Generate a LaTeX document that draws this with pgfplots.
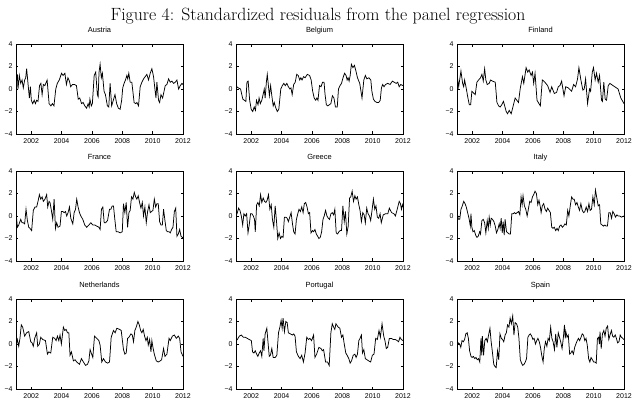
\documentclass[border=0pt]{standalone}
\usepackage{pgfplots}
\pgfplotsset{compat=1.18}
\usepackage{fontspec}
\newfontfamily\helv{Liberation Sans}

\pgfplotsset{
  resid/.style={
    scale only axis, width=167bp, height=90bp,
    xmin=2001, xmax=2012, ymin=-4, ymax=4,
    xtick={2002,2004,2006,2008,2010,2012},
    ytick={-4,-2,0,2,4},
    yticklabels={−4,−2,0,2,4},
    tick align=inside, major tick length=2.5bp,
    axis line style={line width=0.5bp},
    every tick/.style={line width=0.5bp, black},
    every tick label/.append style={font=\helv\fontsize{7}{8}\selectfont},
    xticklabel style={yshift=-1.2bp},
    /pgf/number format/assume math mode=true,
    /pgf/number format/1000 sep={},
    title style={font=\helv\fontsize{7.5}{8}\selectfont, anchor=base,
      at={(0.5,1)}, yshift=6bp, inner sep=0pt},
  },
  resline/.style={black, line width=0.75bp, mark=none},
}

\begin{document}
\begin{tikzpicture}
\path[use as bounding box] (0bp,0bp) rectangle (634bp,-411bp);
\node[anchor=base, font=\fontsize{17.8}{20}\selectfont] at (318bp,-20bp)
  {Figure 4: Standardized residuals from the panel regression};

% ---------- row 1 ----------
\begin{axis}[resid, at={(16bp,-44bp)}, anchor=north west, title={Austria}]
\addplot[resline] coordinates {
(2001.00,0.5) (2001.09,1.3) (2001.13,0.0) (2001.22,1.2) (2001.31,0.5) (2001.40,0.8)
(2001.48,0.1) (2001.57,0.8) (2001.64,1.0) (2001.70,1.8) (2001.79,0.5) (2001.88,-0.8)
(2001.95,0.2) (2002.01,-1.0) (2002.10,-1.3) (2002.20,-1.0) (2002.28,-1.3) (2002.36,-1.0)
(2002.45,-1.1) (2002.55,0.3) (2002.64,0.5) (2002.72,-0.5) (2002.80,0.4) (2002.90,0.3)
(2003.05,0.8) (2003.18,-1.3) (2003.30,-1.5) (2003.40,-1.3) (2003.50,-1.5) (2003.62,0.0)
(2003.72,0.5) (2003.85,0.8) (2004.00,1.4) (2004.10,1.2) (2004.22,1.4) (2004.32,0.4)
(2004.42,1.0) (2004.52,0.7) (2004.60,0.2) (2004.72,0.4) (2004.86,0.4) (2004.98,0.3)
(2005.10,-0.9) (2005.20,-0.8) (2005.32,-1.3) (2005.42,-1.2) (2005.53,-1.5) (2005.65,-1.7)
(2005.75,-1.3) (2005.82,-1.6) (2005.87,-0.9) (2005.96,-1.5) (2006.03,-1.3) (2006.15,1.2)
(2006.25,1.5) (2006.36,-0.5) (2006.41,-0.7) (2006.47,1.5) (2006.54,2.2) (2006.62,1.0)
(2006.69,1.4) (2006.80,-0.2) (2006.89,-0.5) (2007.02,-1.5) (2007.11,-1.6) (2007.20,0.5)
(2007.30,-1.5) (2007.41,-1.0) (2007.52,-0.5) (2007.63,-1.3) (2007.74,-1.7) (2007.86,-1.8)
(2007.96,-1.0) (2008.03,0.1) (2008.12,0.5) (2008.21,0.8) (2008.30,1.2) (2008.36,0.9)
(2008.43,1.4) (2008.52,0.6) (2008.63,0.6) (2008.78,-1.2) (2008.88,-1.3) (2008.96,-1.2)
(2009.07,-1.5) (2009.18,0.2) (2009.29,0.6) (2009.40,0.9) (2009.51,1.1) (2009.62,1.3)
(2009.73,0.8) (2009.84,1.4) (2009.95,1.8) (2010.06,1.1) (2010.15,0.0) (2010.22,-0.8)
(2010.28,0.6) (2010.39,-1.0) (2010.46,-1.2) (2010.55,-0.5) (2010.66,-0.8) (2010.72,-0.4)
(2010.83,0.3) (2010.94,0.4) (2011.05,0.9) (2011.16,0.6) (2011.27,0.7) (2011.38,0.5)
(2011.49,0.6) (2011.60,0.8) (2011.71,0.0) (2011.82,0.3) (2011.93,0.5) (2012.00,0.4)
};
\end{axis}

\begin{axis}[resid, at={(236bp,-44bp)}, anchor=north west, title={Belgium}]
\addplot[resline] coordinates {
(2001.00,0.6) (2001.05,0.2) (2001.15,0.1) (2001.30,0.0) (2001.45,-0.9) (2001.55,-1.0)
(2001.65,-1.1) (2001.72,0.6) (2001.80,0.7) (2001.90,-1.0) (2002.00,-1.8) (2002.10,-2.0)
(2002.20,-1.6) (2002.28,-1.9) (2002.35,-1.0) (2002.45,-1.4) (2002.52,-0.8) (2002.60,-1.3)
(2002.70,-1.0) (2002.80,-0.4) (2002.86,0.0) (2002.92,-0.8) (2003.00,0.6) (2003.06,1.3)
(2003.12,0.5) (2003.20,-0.6) (2003.28,0.3) (2003.35,-0.5) (2003.45,-1.5) (2003.52,-1.2)
(2003.60,-1.6) (2003.72,-2.0) (2003.82,-1.8) (2003.95,0.0) (2004.05,0.3) (2004.15,0.5)
(2004.25,0.3) (2004.35,0.5) (2004.45,0.2) (2004.55,0.0) (2004.62,0.1) (2004.70,-0.5)
(2004.80,0.4) (2004.90,0.6) (2005.00,1.3) (2005.10,1.2) (2005.20,0.8) (2005.27,1.0)
(2005.35,0.8) (2005.45,1.1) (2005.55,1.0) (2005.70,1.3) (2005.85,1.2) (2005.95,0.8)
(2006.05,-0.2) (2006.15,-0.8) (2006.25,-1.0) (2006.33,-0.8) (2006.40,-1.0) (2006.50,0.3)
(2006.60,0.2) (2006.70,0.6) (2006.80,0.6) (2006.86,-0.4) (2006.95,-1.4) (2007.05,-1.5)
(2007.15,-1.4) (2007.25,-1.3) (2007.35,-0.6) (2007.45,-0.8) (2007.55,-1.6) (2007.67,-1.6)
(2007.75,0.0) (2007.85,0.3) (2007.95,0.5) (2008.05,1.0) (2008.15,1.4) (2008.25,1.2)
(2008.32,0.8) (2008.38,1.0) (2008.45,0.7) (2008.52,1.2) (2008.60,2.2) (2008.70,1.9)
(2008.80,2.1) (2008.90,1.6) (2009.00,1.0) (2009.15,0.5) (2009.30,-0.8) (2009.42,0.8)
(2009.52,1.2) (2009.62,0.9) (2009.75,1.0) (2009.88,0.8) (2009.95,-0.2) (2010.05,-0.9)
(2010.15,-1.1) (2010.28,-1.2) (2010.40,-1.2) (2010.50,-1.0) (2010.58,0.1) (2010.66,0.4)
(2010.75,0.2) (2010.85,0.4) (2011.00,0.5) (2011.15,0.4) (2011.30,0.7) (2011.42,0.6)
(2011.55,0.5) (2011.65,0.6) (2011.75,0.2) (2011.85,0.4) (2012.00,0.3)
};
\end{axis}

\begin{axis}[resid, at={(457bp,-44bp)}, anchor=north west, title={Finland}]
\addplot[resline] coordinates {
(2001.00,1.3) (2001.11,0.2) (2001.26,1.6) (2001.37,0.5) (2001.44,0.2) (2001.50,0.8)
(2001.59,0.2) (2001.72,-0.8) (2001.81,-1.4) (2001.90,-1.4) (2001.98,-0.2) (2002.12,-0.4)
(2002.20,-0.5) (2002.31,0.6) (2002.42,0.8) (2002.55,1.0) (2002.64,1.3) (2002.73,0.7)
(2002.82,1.8) (2002.90,0.8) (2002.99,0.4) (2003.12,0.5) (2003.21,0.8) (2003.34,0.7)
(2003.52,0.6) (2003.63,-1.2) (2003.74,-1.5) (2003.84,-1.6) (2003.95,-1.4) (2004.06,-1.1)
(2004.24,-2.0) (2004.33,-2.2) (2004.44,-1.9) (2004.57,-2.2) (2004.70,-1.5) (2004.83,-0.8)
(2004.94,-1.0) (2005.05,-1.2) (2005.16,0.0) (2005.31,1.1) (2005.40,0.5) (2005.55,1.9)
(2005.66,1.5) (2005.75,1.7) (2005.88,1.2) (2005.97,1.5) (2006.05,0.5) (2006.14,1.4)
(2006.27,-1.0) (2006.40,-1.3) (2006.49,-1.5) (2006.62,0.8) (2006.72,0.7) (2006.85,0.5)
(2006.97,0.3) (2007.05,0.0) (2007.13,-0.3) (2007.24,0.2) (2007.32,-0.1) (2007.41,-0.4)
(2007.56,-0.3) (2007.67,0.2) (2007.78,0.3) (2007.89,0.7) (2008.05,-0.6) (2008.16,0.2)
(2008.33,0.1) (2008.48,-0.1) (2008.55,-0.2) (2008.68,0.4) (2008.81,0.2) (2008.94,0.9)
(2009.03,1.9) (2009.16,0.8) (2009.29,-0.1) (2009.38,0.0) (2009.47,0.9) (2009.60,-1.3)
(2009.73,0.0) (2009.80,-0.2) (2009.91,1.5) (2009.99,1.9) (2010.10,0.8) (2010.19,1.4)
(2010.30,0.6) (2010.39,1.2) (2010.52,-1.0) (2010.58,-1.1) (2010.67,0.6) (2010.76,-0.9)
(2010.85,-1.0) (2010.96,0.3) (2011.07,0.5) (2011.28,0.3) (2011.50,0.1) (2011.61,0.0)
(2011.79,-0.8) (2012.00,-1.3)
};
\end{axis}

% ---------- row 2 ----------
\begin{axis}[resid, at={(16bp,-171bp)}, anchor=north west, title={France}]
\addplot[resline] coordinates {
(2001.00,0.4) (2001.09,-1.0) (2001.18,-0.8) (2001.31,-0.3) (2001.40,-0.6) (2001.48,-0.6)
(2001.57,-0.7) (2001.66,0.6) (2001.75,-0.4) (2001.84,-1.0) (2001.92,-1.1) (2002.03,-1.3)
(2002.14,0.5) (2002.25,0.8) (2002.36,0.8) (2002.45,1.3) (2002.54,1.9) (2002.63,1.5)
(2002.72,1.7) (2002.80,1.3) (2002.91,1.5) (2003.02,1.9) (2003.09,0.8) (2003.18,1.3)
(2003.24,1.2) (2003.33,0.5) (2003.42,-0.3) (2003.51,1.5) (2003.60,-1.1) (2003.68,-0.6)
(2003.77,-1.0) (2003.90,-0.9) (2003.99,0.4) (2004.08,0.4) (2004.17,0.3) (2004.26,0.4)
(2004.34,0.0) (2004.43,0.3) (2004.52,0.8) (2004.61,-0.2) (2004.74,-0.7) (2004.83,0.3)
(2004.92,0.6) (2005.00,1.5) (2005.09,0.8) (2005.18,0.3) (2005.27,0.0) (2005.40,-0.3)
(2005.53,-0.8) (2005.66,-1.0) (2005.80,-0.8) (2005.93,-0.6) (2006.06,-0.8) (2006.19,-0.8)
(2006.32,-0.9) (2006.46,-1.0) (2006.54,-1.2) (2006.63,0.6) (2006.72,0.8) (2006.81,-0.6)
(2006.90,-0.6) (2007.03,-0.4) (2007.16,0.6) (2007.25,0.6) (2007.34,0.9) (2007.42,0.9)
(2007.51,-0.3) (2007.60,-1.4) (2007.73,-1.4) (2007.86,-1.5) (2008.00,-1.4) (2008.08,1.1)
(2008.17,0.3) (2008.26,1.2) (2008.35,-1.0) (2008.44,0.3) (2008.52,0.5) (2008.61,1.7)
(2008.70,1.5) (2008.79,2.1) (2008.88,1.7) (2008.96,1.5) (2009.05,1.8) (2009.14,1.2)
(2009.23,0.7) (2009.32,1.2) (2009.40,0.0) (2009.49,0.8) (2009.58,-0.6) (2009.67,0.4)
(2009.76,1.0) (2009.84,0.3) (2009.93,0.4) (2010.02,0.5) (2010.11,1.5) (2010.20,0.8)
(2010.28,1.1) (2010.37,1.1) (2010.46,-0.5) (2010.55,-0.8) (2010.64,-0.8) (2010.72,0.6)
(2010.81,-0.4) (2010.90,-1.3) (2010.99,-1.4) (2011.08,-1.4) (2011.16,-1.5) (2011.25,-1.2)
(2011.34,-1.0) (2011.43,0.4) (2011.52,0.7) (2011.60,-1.8) (2011.69,-1.6) (2011.78,-1.2)
(2011.87,-1.8) (2011.96,-1.9) (2012.00,-2.0)
};
\end{axis}

\begin{axis}[resid, at={(236bp,-171bp)}, anchor=north west, title={Greece}]
\addplot[resline] coordinates {
(2001.00,0.0) (2001.09,0.3) (2001.17,0.7) (2001.26,0.5) (2001.35,0.0) (2001.44,-0.8)
(2001.52,0.2) (2001.61,0.0) (2001.70,0.2) (2001.79,-1.5) (2001.87,-0.8) (2001.96,0.2)
(2002.05,0.2) (2002.14,0.0) (2002.22,-0.3) (2002.27,-1.4) (2002.36,1.0) (2002.44,1.2)
(2002.53,0.9) (2002.62,1.9) (2002.70,1.2) (2002.79,1.6) (2002.88,1.3) (2002.97,1.2)
(2003.05,1.4) (2003.14,1.9) (2003.23,0.6) (2003.32,1.0) (2003.40,-0.3) (2003.49,-1.0)
(2003.58,0.9) (2003.67,-0.5) (2003.75,-2.0) (2003.84,-1.5) (2003.93,-2.0) (2004.02,-1.8)
(2004.10,-1.9) (2004.19,-0.1) (2004.28,-0.1) (2004.37,-0.2) (2004.45,-0.5) (2004.54,-0.1)
(2004.63,0.3) (2004.72,-0.7) (2004.80,-1.4) (2004.89,-1.6) (2004.98,-0.3) (2005.07,0.2)
(2005.15,0.6) (2005.24,0.4) (2005.33,0.8) (2005.42,0.3) (2005.50,1.1) (2005.59,1.2)
(2005.68,0.8) (2005.77,0.2) (2005.85,0.3) (2005.94,-1.5) (2006.03,-1.3) (2006.11,-1.4)
(2006.20,-1.2) (2006.29,-1.6) (2006.38,-1.8) (2006.46,-2.0) (2006.55,-1.9) (2006.64,-1.4)
(2006.73,-0.3) (2006.81,0.0) (2006.90,0.5) (2006.99,0.0) (2007.08,-0.2) (2007.16,-0.3)
(2007.25,0.2) (2007.34,0.3) (2007.43,0.1) (2007.51,0.6) (2007.60,-1.5) (2007.69,-1.6)
(2007.78,-1.4) (2007.86,-1.3) (2007.95,-1.3) (2008.04,0.9) (2008.13,-0.5) (2008.21,0.4)
(2008.30,-1.6) (2008.39,-0.9) (2008.48,1.6) (2008.56,1.7) (2008.65,2.2) (2008.74,1.3)
(2008.83,1.8) (2008.91,1.5) (2009.00,1.7) (2009.09,1.0) (2009.17,0.5) (2009.26,-0.5)
(2009.35,0.3) (2009.44,0.1) (2009.52,-0.6) (2009.61,0.7) (2009.70,0.2) (2009.79,0.0)
(2009.87,-0.4) (2009.96,0.5) (2010.05,1.5) (2010.14,0.6) (2010.22,0.9) (2010.31,-0.1)
(2010.40,-0.2) (2010.49,0.2) (2010.57,-0.6) (2010.70,0.1) (2010.85,0.2) (2011.00,0.2)
(2011.10,0.7) (2011.25,0.3) (2011.40,0.2) (2011.50,0.0) (2011.62,0.6) (2011.75,1.3)
(2011.83,1.1) (2011.90,0.6) (2011.96,1.0) (2012.00,0.8)
};
\end{axis}

\begin{axis}[resid, at={(457bp,-171bp)}, anchor=north west, title={Italy}]
\addplot[resline] coordinates {
(2001.00,0.4) (2001.09,-0.3) (2001.18,-0.3) (2001.26,0.6) (2001.35,0.9) (2001.44,1.3)
(2001.53,1.1) (2001.61,0.8) (2001.70,0.3) (2001.79,-0.2) (2001.88,-0.9) (2001.92,0.2)
(2001.98,-1.0) (2002.05,-1.4) (2002.14,-1.3) (2002.23,-1.7) (2002.31,-1.9) (2002.40,-1.8)
(2002.49,-1.4) (2002.55,-1.6) (2002.64,-0.4) (2002.73,-0.3) (2002.82,-0.6) (2002.90,-1.5)
(2002.99,-0.4) (2003.06,-1.1) (2003.12,-0.1) (2003.19,-0.8) (2003.25,-0.2) (2003.34,-0.3)
(2003.43,-0.5) (2003.52,-0.9) (2003.60,-1.5) (2003.69,-1.2) (2003.78,-0.7) (2003.84,-1.1)
(2003.91,-0.2) (2003.98,-1.5) (2004.04,-0.5) (2004.11,-1.7) (2004.17,-0.3) (2004.26,-1.4)
(2004.35,-1.5) (2004.44,-1.6) (2004.52,-1.6) (2004.61,0.2) (2004.70,0.2) (2004.79,0.3)
(2004.87,0.2) (2004.96,0.3) (2005.05,0.4) (2005.14,0.1) (2005.22,1.7) (2005.29,1.0)
(2005.35,1.8) (2005.44,0.9) (2005.53,0.6) (2005.62,0.0) (2005.70,0.6) (2005.79,1.3)
(2005.88,1.2) (2005.97,1.7) (2006.05,1.9) (2006.14,2.2) (2006.23,2.0) (2006.32,1.0)
(2006.40,1.4) (2006.49,0.8) (2006.54,0.3) (2006.62,0.9) (2006.71,1.1) (2006.80,0.6)
(2006.89,0.4) (2006.97,0.7) (2007.06,0.5) (2007.15,0.3) (2007.24,-1.0) (2007.32,-1.1)
(2007.41,-1.0) (2007.50,-1.3) (2007.59,-1.1) (2007.67,-1.3) (2007.76,-0.9) (2007.85,-0.8)
(2007.94,-1.0) (2008.02,-0.9) (2008.11,-0.7) (2008.20,-0.8) (2008.29,0.5) (2008.37,0.0)
(2008.46,0.9) (2008.55,1.7) (2008.64,1.5) (2008.72,1.5) (2008.81,1.0) (2008.90,1.2)
(2008.99,0.8) (2009.07,0.5) (2009.16,1.1) (2009.25,0.5) (2009.34,0.3) (2009.42,0.4)
(2009.51,0.8) (2009.60,0.4) (2009.69,1.1) (2009.77,0.5) (2009.86,0.6) (2009.95,1.7)
(2010.04,1.0) (2010.12,2.3) (2010.21,1.6) (2010.30,0.9) (2010.39,1.0) (2010.47,-0.7)
(2010.56,-0.8) (2010.65,-0.9) (2010.74,-0.8) (2010.82,-0.9) (2010.91,-0.9) (2011.00,0.3)
(2011.09,0.3) (2011.18,-0.2) (2011.26,0.4) (2011.35,0.2) (2011.44,-0.1) (2011.53,0.1)
(2011.61,0.0) (2011.72,0.0) (2011.83,-0.1) (2012.00,0.0)
};
\end{axis}

% ---------- row 3 ----------
\begin{axis}[resid, at={(16bp,-299bp)}, anchor=north west, title={Netherlands}]
\addplot[resline] coordinates {
(2001.00,-0.2) (2001.09,0.4) (2001.18,-0.2) (2001.26,0.5) (2001.35,1.7) (2001.44,1.5)
(2001.57,0.7) (2001.70,1.0) (2001.84,1.1) (2001.97,0.2) (2002.06,0.1) (2002.14,-0.2)
(2002.23,0.5) (2002.36,1.0) (2002.43,-0.2) (2002.54,0.0) (2002.63,0.6) (2002.76,0.4)
(2002.94,0.3) (2003.07,-0.9) (2003.16,-0.7) (2003.29,-0.8) (2003.42,0.6) (2003.55,0.5)
(2003.64,0.3) (2003.73,0.7) (2003.82,0.3) (2003.90,0.8) (2003.99,0.0) (2004.12,1.5)
(2004.21,1.2) (2004.30,1.3) (2004.39,1.0) (2004.48,1.0) (2004.56,-1.0) (2004.65,-0.7)
(2004.78,-1.5) (2004.89,-1.4) (2005.00,-1.6) (2005.18,-1.8) (2005.31,-1.3) (2005.44,-1.6)
(2005.58,-1.9) (2005.71,-1.8) (2005.80,-1.5) (2005.88,-0.5) (2006.06,-1.2) (2006.17,0.7)
(2006.32,0.5) (2006.46,0.3) (2006.54,-0.1) (2006.65,-1.6) (2006.76,-1.3) (2006.90,-1.6)
(2007.03,-1.7) (2007.16,-1.6) (2007.27,0.6) (2007.42,1.2) (2007.53,1.0) (2007.64,1.4)
(2007.82,1.3) (2007.93,1.2) (2008.08,-0.5) (2008.17,-0.9) (2008.26,-0.8) (2008.35,0.5)
(2008.44,0.6) (2008.57,0.9) (2008.66,0.8) (2008.74,0.2) (2008.83,1.2) (2008.92,1.5)
(2009.03,2.0) (2009.12,1.7) (2009.21,1.2) (2009.29,1.0) (2009.38,1.3) (2009.47,0.7)
(2009.56,0.3) (2009.65,0.6) (2009.71,-0.1) (2009.80,0.4) (2009.89,-0.7) (2009.95,0.3)
(2010.02,-0.3) (2010.11,-0.9) (2010.24,-1.5) (2010.37,-1.6) (2010.50,-1.5) (2010.59,-1.4)
(2010.72,-0.4) (2010.81,-1.1) (2010.94,-0.9) (2011.08,0.5) (2011.16,0.3) (2011.30,0.7)
(2011.43,0.8) (2011.56,0.5) (2011.69,0.7) (2011.78,0.5) (2011.87,-0.7) (2012.00,-1.1)
};
\end{axis}

\begin{axis}[resid, at={(236bp,-299bp)}, anchor=north west, title={Portugal}]
\addplot[resline] coordinates {
(2001.00,0.3) (2001.09,0.4) (2001.22,0.7) (2001.35,0.8) (2001.48,0.6) (2001.61,0.6)
(2001.74,0.5) (2001.87,0.4) (2002.01,0.3) (2002.09,-0.7) (2002.18,-0.8) (2002.27,-0.6)
(2002.36,-0.9) (2002.44,-1.1) (2002.53,-0.8) (2002.62,-0.6) (2002.70,-1.1) (2002.79,0.5)
(2002.84,-0.6) (2002.92,0.9) (2003.03,1.4) (2003.10,0.3) (2003.19,-1.1) (2003.27,-1.0)
(2003.36,-0.4) (2003.45,-1.2) (2003.58,-1.2) (2003.69,-1.0) (2003.80,1.0) (2003.89,1.5)
(2003.97,2.1) (2004.04,1.4) (2004.10,2.3) (2004.19,1.1) (2004.28,2.0) (2004.37,1.9)
(2004.45,1.0) (2004.58,0.9) (2004.72,0.8) (2004.80,0.9) (2004.89,0.7) (2004.98,-0.7)
(2005.11,-1.1) (2005.22,-1.3) (2005.33,-1.0) (2005.44,-1.6) (2005.55,-0.8) (2005.66,0.6)
(2005.77,0.4) (2005.87,0.5) (2005.98,0.3) (2006.11,0.8) (2006.20,-1.2) (2006.31,-0.9)
(2006.46,-0.3) (2006.60,-0.4) (2006.68,-0.6) (2006.77,-0.5) (2006.90,-1.6) (2007.03,-1.6)
(2007.14,-1.9) (2007.25,1.0) (2007.34,1.8) (2007.43,1.5) (2007.51,1.3) (2007.58,1.8)
(2007.73,1.5) (2007.84,1.4) (2007.95,0.6) (2008.04,0.8) (2008.13,0.0) (2008.23,-0.8)
(2008.32,-1.0) (2008.43,-1.3) (2008.52,-1.7) (2008.61,-1.5) (2008.72,-1.0) (2008.83,-0.9)
(2008.91,-1.2) (2009.00,-0.9) (2009.09,0.3) (2009.17,0.5) (2009.26,0.8) (2009.33,-0.8)
(2009.42,-0.5) (2009.52,-1.3) (2009.63,-1.4) (2009.74,-1.5) (2009.87,-1.6) (2009.98,-1.0)
(2010.09,-0.9) (2010.20,0.5) (2010.31,0.4) (2010.42,1.2) (2010.51,0.6) (2010.62,1.8)
(2010.73,0.7) (2010.81,0.3) (2010.90,-0.4) (2010.99,-0.3) (2011.10,0.5) (2011.23,0.5)
(2011.36,0.4) (2011.49,0.4) (2011.62,0.3) (2011.71,0.2) (2011.80,0.6) (2011.89,0.4)
(2012.00,0.3)
};
\end{axis}

\begin{axis}[resid, at={(457bp,-299bp)}, anchor=north west, title={Spain}]
\addplot[resline] coordinates {
(2001.00,-0.2) (2001.08,0.1) (2001.17,0.0) (2001.25,-0.3) (2001.33,0.3) (2001.42,0.2)
(2001.50,0.4) (2001.58,0.9) (2001.67,1.0) (2001.75,0.5) (2001.83,-0.6) (2001.92,-1.1)
(2002.00,-1.2) (2002.08,-1.1) (2002.17,-1.3) (2002.25,-1.2) (2002.33,-1.4) (2002.42,-1.3)
(2002.50,-1.6) (2002.58,0.5) (2002.63,-1.0) (2002.67,0.7) (2002.75,-1.0) (2002.83,0.3)
(2002.92,0.5) (2003.00,0.2) (2003.08,0.8) (2003.17,1.4) (2003.25,0.2) (2003.33,-0.7)
(2003.42,-1.8) (2003.50,-2.0) (2003.58,-2.1) (2003.67,-0.6) (2003.75,-1.4) (2003.83,0.9)
(2003.92,0.5) (2004.00,0.4) (2004.08,0.2) (2004.17,0.8) (2004.25,1.0) (2004.33,1.7)
(2004.42,1.5) (2004.50,2.3) (2004.58,1.8) (2004.67,2.5) (2004.75,0.8) (2004.83,1.9)
(2004.92,1.8) (2005.00,1.5) (2005.08,0.5) (2005.17,-1.4) (2005.25,-1.7) (2005.33,-1.9)
(2005.42,-1.8) (2005.50,-1.6) (2005.58,-1.3) (2005.67,0.6) (2005.75,0.8) (2005.83,0.9)
(2005.92,0.7) (2006.00,0.4) (2006.08,0.5) (2006.17,0.0) (2006.25,0.3) (2006.33,0.5)
(2006.42,0.2) (2006.50,-0.3) (2006.58,-1.0) (2006.67,-1.6) (2006.75,-0.4) (2006.83,0.2)
(2006.92,-0.2) (2007.00,0.5) (2007.08,0.3) (2007.17,1.5) (2007.25,0.5) (2007.33,0.2)
(2007.42,-0.5) (2007.50,0.9) (2007.58,-0.3) (2007.67,1.0) (2007.75,0.6) (2007.83,0.2)
(2007.92,-0.4) (2008.00,0.5) (2008.08,1.7) (2008.13,0.5) (2008.17,1.1) (2008.25,0.6)
(2008.33,0.8) (2008.42,-0.9) (2008.50,-0.8) (2008.58,-0.6) (2008.67,-0.9) (2008.75,-0.3)
(2008.83,0.0) (2008.92,0.3) (2009.00,0.5) (2009.08,0.3) (2009.17,0.6) (2009.25,0.9)
(2009.33,0.8) (2009.42,0.3) (2009.50,0.5) (2009.58,-0.1) (2009.67,-1.3) (2009.75,-1.6)
(2009.83,-1.2) (2009.92,-1.4) (2010.00,-1.6) (2010.08,-1.6) (2010.17,-1.7) (2010.25,0.5)
(2010.33,0.6) (2010.38,0.0) (2010.42,1.1) (2010.50,-0.4) (2010.58,0.9) (2010.67,1.2)
(2010.75,0.7) (2010.83,1.4) (2010.92,1.6) (2011.00,0.4) (2011.08,0.8) (2011.17,1.2)
(2011.25,0.7) (2011.33,0.6) (2011.42,0.8) (2011.50,0.5) (2011.58,0.1) (2011.67,0.2)
(2011.75,0.8) (2011.83,0.6) (2011.92,0.5) (2012.00,0.4)
};
\end{axis}
\end{tikzpicture}
\end{document}
